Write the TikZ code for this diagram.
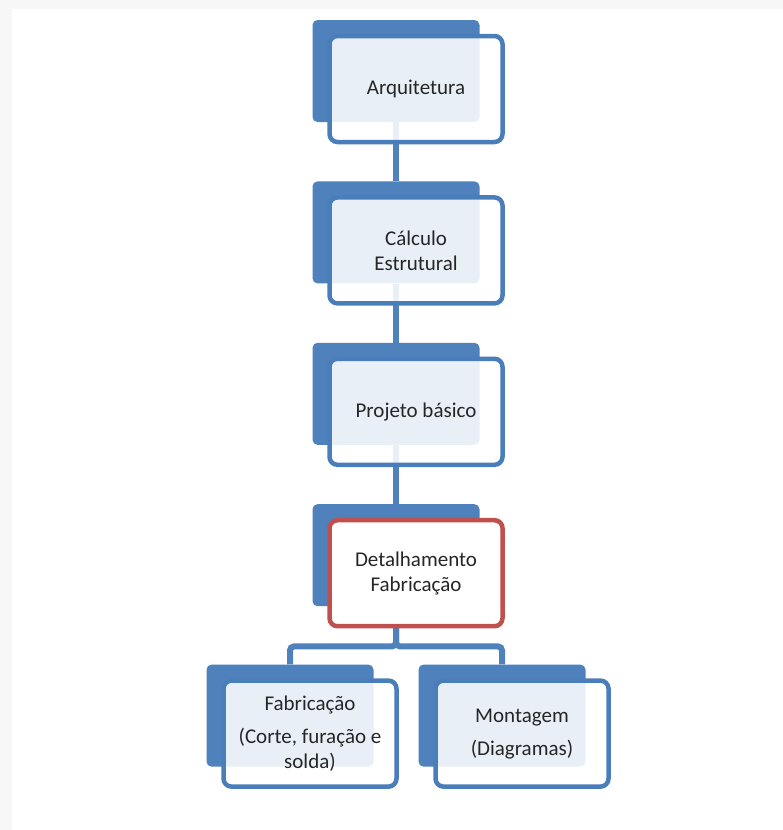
\documentclass[tikz,border=0pt]{standalone}
\usepackage{fontspec}
\setmainfont{Carlito}
\usetikzlibrary{positioning}
\definecolor{boxblue}{RGB}{79,129,189}
\definecolor{edgeblue}{RGB}{74,126,187}
\definecolor{boxred}{RGB}{192,80,77}
\definecolor{pagegrey}{RGB}{247,247,247}
\definecolor{txtgrey}{RGB}{38,38,38}
\tikzset{
  backbox/.style={rectangle, rounded corners=5pt, fill=boxblue, minimum width=167pt,
                  minimum height=102pt, inner sep=0pt},
  frontbox/.style={rectangle, rounded corners=8pt, draw=edgeblue, line width=4.5pt,
                   fill=white, fill opacity=0.88, text opacity=1, minimum width=173pt,
                   minimum height=106pt, inner sep=0pt, align=center, text=txtgrey,
                   font=\fontsize{21}{25}\selectfont},
  hotbox/.style={frontbox, draw=boxred, fill opacity=1},
  link/.style={line width=6pt, boxblue, rounded corners=4pt}
}

\begin{document}
\begin{tikzpicture}[node distance=59pt]
        \useasboundingbox (0,0) rectangle (783pt,-830pt);
        \fill[pagegrey] (0,0) rectangle (783pt,-830pt);
        \fill[white] (12pt,-9pt) rectangle (783pt,-830pt);
        % back plates
        \node[backbox] (arq) at (396pt,-71pt) {};
        \node[backbox, below=of arq] (calc) {};
        \node[backbox, below=of calc] (proj) {};
        \node[backbox, below=of proj] (det) {};
        \node[backbox, below=58pt of det, xshift=-106pt] (fab) {};
        \node[backbox, below=58pt of det, xshift=106pt] (mont) {};
        % connectors
        \draw[link] (arq) -- (calc); \draw[link] (calc) -- (proj); \draw[link] (proj) -- (det);
        \draw[link] (det.south) -- ++(0,-40pt) -| (fab.north);
        \draw[link] (det.south) -- ++(0,-40pt) -| (mont.north);
        % front boxes
        \node[frontbox] (arqf) at ([xshift=20pt,yshift=-18pt]arq) {Arquitetura};
        \node[frontbox] (calcf) at ([xshift=20pt,yshift=-18pt]calc) {Cálculo\\Estrutural};
        \node[frontbox] (projf) at ([xshift=20pt,yshift=-18pt]proj) {Projeto básico};
        \node[hotbox] (detf) at ([xshift=20pt,yshift=-18pt]det) {Detalhamento\\Fabricação};
        \node[frontbox] (fabf) at ([xshift=20pt,yshift=-18pt]fab) {Fabricação\\[8pt](Corte, furação e\\solda)};
        \node[frontbox] (montf) at ([xshift=20pt,yshift=-18pt]mont) {Montagem\\[8pt](Diagramas)};
\end{tikzpicture}
\end{document}
